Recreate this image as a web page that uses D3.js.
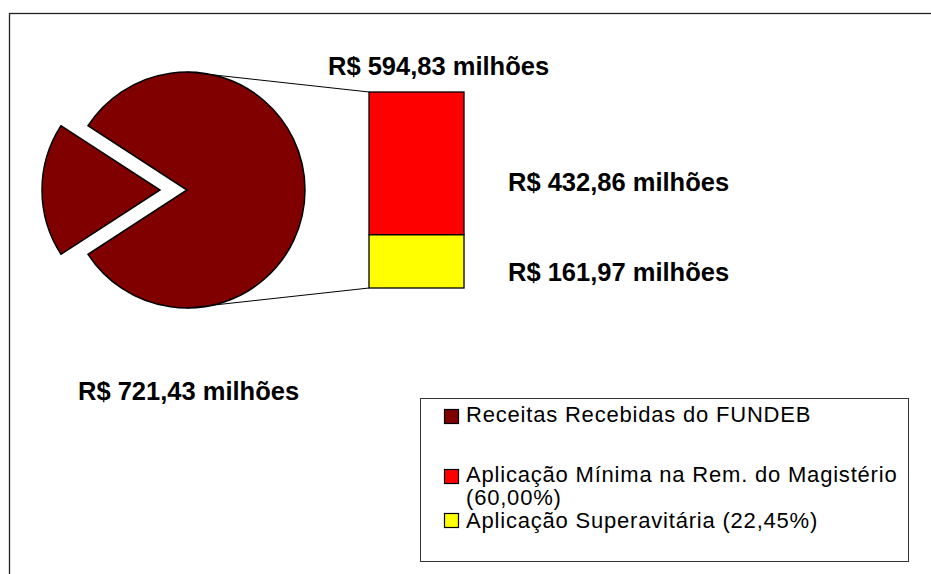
<!DOCTYPE html>
<html>
<head>
<meta charset="utf-8">
<script src="https://cdn.jsdelivr.net/npm/d3@7"></script>
<style>
  body { margin: 0; background: #fff; }
  svg text { font-family: "Liberation Sans", Arial, sans-serif; }
</style>
</head>
<body>
<div id="chart"></div>
<script>
// data
var pieNames = ["Receitas Recebidas do FUNDEB", "Parte explodida"];
var pieValues = [721.43, 161.97];
var barNames = ["Aplicação Superavitária (22,45%)", "Aplicação Mínima na Rem. do Magistério (60,00%)"];
var barValues = [161.97, 432.86];
var barTotal = 594.83;
var labels = ["R$ 721,43 milhões", "R$ 594,83 milhões", "R$ 432,86 milhões", "R$ 161,97 milhões"];
var legendLines = [
    ["Receitas Recebidas do FUNDEB"],
    ["Aplicação Mínima na Rem. do Magistério", "(60,00%)"],
    ["Aplicação Superavitária (22,45%)"]
];
var colors = ["#800000", "#ff0000", "#ffff00"];

var svg = d3.select("#chart").append("svg").attr("width", 931).attr("height", 574);

// outer frame (only top and left edges are visible)
svg.append("rect").attr("x", 9.5).attr("y", 13.5).attr("width", 1000).attr("height", 1000)
    .attr("fill", "none").attr("stroke", "#222").attr("stroke-width", 1.3);

// pie
var cx = 187, cy = 190, r = 118, explode = 27;
var total = d3.sum(pieValues);
var mainAngle = 2 * Math.PI * pieValues[0] / total;
var smallAngle = 2 * Math.PI * pieValues[1] / total;
var start = 1.5 * Math.PI - mainAngle - smallAngle / 2;

var pie = d3.pie().sort(null).startAngle(start).endAngle(start + 2 * Math.PI);
var arc = d3.arc().innerRadius(0).outerRadius(r);
var slices = pie(pieValues);

svg.append("g").attr("transform", "translate(" + cx + "," + cy + ")")
    .selectAll("path").data(slices).enter().append("path")
    .attr("d", arc)
    .attr("transform", function (d, i) {
        if (i == 0) return null;
        var mid = (d.startAngle + d.endAngle) / 2;
        return "translate(" + (Math.sin(mid) * explode) + "," + (-Math.cos(mid) * explode) + ")";
    })
    .attr("fill", colors[0])
    .attr("stroke", "#000")
    .attr("stroke-width", 1.5)
    .attr("stroke-linejoin", "miter");

// stacked bar
var barX = 369, barW = 95;
var y = d3.scaleLinear().domain([0, barTotal]).range([288, 92]);
var stackRows = [{ sup: barValues[0], min: barValues[1] }];
var series = d3.stack().keys(["sup", "min"])(stackRows);

// connector lines
svg.append("line").attr("x1", cx).attr("y1", cy - r).attr("x2", barX).attr("y2", y(barTotal))
    .attr("stroke", "#000").attr("stroke-width", 1);
svg.append("line").attr("x1", cx).attr("y1", cy + r).attr("x2", barX).attr("y2", y(0))
    .attr("stroke", "#000").attr("stroke-width", 1);

svg.append("g").selectAll("rect").data(series).enter().append("rect")
    .attr("x", barX)
    .attr("width", barW)
    .attr("y", function (s) { return y(s[0][1]); })
    .attr("height", function (s) { return y(s[0][0]) - y(s[0][1]); })
    .attr("fill", function (s, i) { return i == 0 ? colors[2] : colors[1]; })
    .attr("stroke", "#000")
    .attr("stroke-width", 1.3);

// value labels
var labelPos = [[78, 400], [328, 75], [508, 191], [508, 281]];
svg.append("g").selectAll("text").data(labels).enter().append("text")
    .attr("x", function (d, i) { return labelPos[i][0]; })
    .attr("y", function (d, i) { return labelPos[i][1]; })
    .style("font-size", "25.5px")
    .style("font-weight", "bold")
    .attr("fill", "#000")
    .text(function (d) { return d; });

// legend
var legend = svg.append("g");
legend.append("rect").attr("x", 420.5).attr("y", 398.5).attr("width", 488).attr("height", 163)
    .attr("fill", "#fff").attr("stroke", "#333").attr("stroke-width", 1);

var swatchY = [409, 469, 513];
var lineY = [[422], [482, 505], [528]];
legendLines.forEach(function (lines, i) {
    legend.append("rect").attr("x", 444.5).attr("y", swatchY[i] + 0.5).attr("width", 14).attr("height", 14)
        .attr("fill", colors[i]).attr("stroke", "#000").attr("stroke-width", 1.2);
    lines.forEach(function (t, j) {
        legend.append("text").attr("x", 466).attr("y", lineY[i][j])
            .style("font-size", "22px")
            .style("letter-spacing", "0.8px")
            .attr("fill", "#000")
            .text(t);
    });
});
</script>
</body>
</html>
